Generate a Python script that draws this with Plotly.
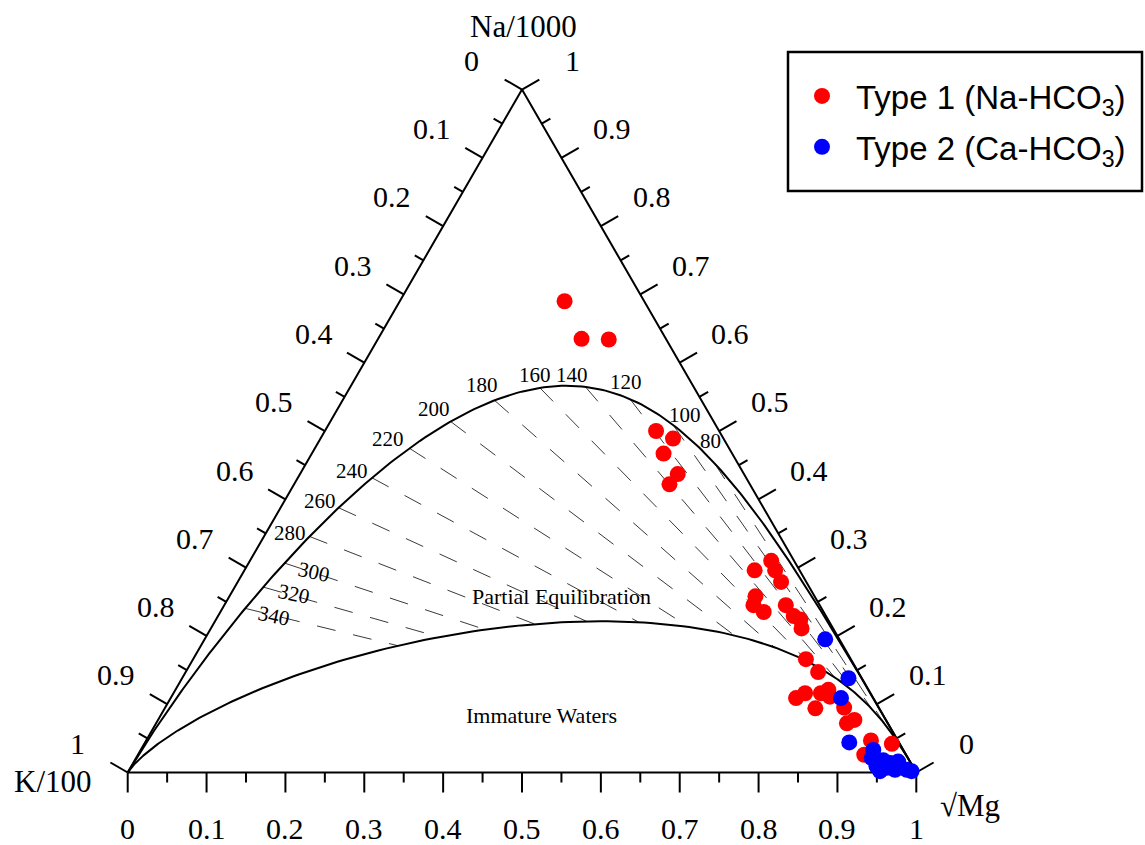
import numpy as np
import plotly.graph_objects as go

# ---------------- data (ternary fractions) ----------------
# components: Na/1000, K/100, sqrt(Mg)
type1_na = [0.690, 0.635, 0.634, 0.500, 0.489, 0.467, 0.437, 0.422, 0.310, 0.296,
            0.296, 0.279, 0.258, 0.245, 0.235, 0.245, 0.229, 0.224, 0.211, 0.166,
            0.147, 0.109, 0.116, 0.094, 0.116, 0.121, 0.111, 0.095, 0.072, 0.077,
            0.047, 0.042, 0.026]
type1_k = [0.101, 0.107, 0.073, 0.080, 0.064, 0.087, 0.084, 0.102, 0.029, 0.057,
           0.031, 0.032, 0.075, 0.084, 0.076, 0.043, 0.041, 0.035, 0.040, 0.057,
           0.051, 0.098, 0.083, 0.081, 0.063, 0.051, 0.054, 0.044, 0.052, 0.040,
           0.034, 0.010, 0.053]
type1_mg = [0.209, 0.258, 0.293, 0.420, 0.447, 0.446, 0.479, 0.476, 0.661, 0.647,
            0.673, 0.689, 0.667, 0.671, 0.689, 0.712, 0.730, 0.741, 0.749, 0.777,
            0.802, 0.793, 0.801, 0.825, 0.821, 0.828, 0.835, 0.861, 0.876, 0.883,
            0.919, 0.948, 0.921]

type2_na = [0.195, 0.138, 0.109, 0.044, 0.033, 0.021, 0.009, 0.018, 0.014, 0.016,
            0.004, 0.004, 0.002, 0.007, 0.002]
type2_k = [0.018, 0.017, 0.041, 0.063, 0.038, 0.046, 0.046, 0.033, 0.026, 0.015,
           0.025, 0.010, 0.045, 0.034, 0.005]
type2_mg = [0.787, 0.845, 0.850, 0.893, 0.929, 0.933, 0.945, 0.949, 0.960, 0.969,
            0.971, 0.986, 0.953, 0.959, 0.993]

# isotherm temperatures labelled along the full-equilibrium curve (deg C)
isotherm_temps = [80, 100, 120, 140, 160, 180, 200, 220, 240, 260, 280, 300, 320, 340]

# axis tick values (fractions) and their labels
major_ticks = [0.0, 0.1, 0.2, 0.3, 0.4, 0.5, 0.6, 0.7, 0.8, 0.9, 1.0]
major_tick_text = ["0", "0.1", "0.2", "0.3", "0.4", "0.5", "0.6", "0.7", "0.8", "0.9", "1"]
minor_ticks = [0.05, 0.15, 0.25, 0.35, 0.45, 0.55, 0.65, 0.75, 0.85, 0.95]

# ---------------- styling (pixel based) ----------------
W, H = 1145, 845
X0_PX, X1_PX, BASE_PX = 127.7, 916.3, 772.5      # triangle base in page pixels
SIDE_PX = X1_PX - X0_PX
MAJOR_LEN, MINOR_LEN = 20 / SIDE_PX, 10 / SIDE_PX
LABEL_DIST = {"left": 58.5 / SIDE_PX, "right": 58.5 / SIDE_PX, "bottom": 56 / SIDE_PX}
# label nudges (px) of the isotherm labels relative to their curve point
iso_label_shift = [(-4, 22), (12, 10), (-4, 17), (-13, 12), (-5, 13), (-13, 15), (-17, 13),
                   (-21, 9), (-20, 7), (-19, 7), (-20, 3), (29, -9), (31, -7), (29, -8)]
iso_label_angle = [0] * 11 + [12, 12, 12]

S3 = np.sqrt(3) / 2


def to_xy(na, k, mg):
    na, k, mg = (np.asarray(v, dtype=float) for v in (na, k, mg))
    s = na + k + mg
    na, mg = na / s, mg / s
    return mg + na / 2, na * S3


# ---------------- Giggenbach (1988) geothermometer relations ----------------
NA_REF = 1000.0  # mg/kg reference sodium used to construct the diagram


def giggenbach_point(log_na_k, log_k2_mg):
    log_na_k = np.asarray(log_na_k, dtype=float)
    k = NA_REF / 10 ** log_na_k
    sqrt_mg = k / 10 ** (np.asarray(log_k2_mg) / 2.0)
    na = np.full_like(log_na_k, NA_REF / 1000.0)
    return na, k / 100.0, sqrt_mg


def full_eq(log_na_k):
    # log(Na/K) = 1390/T - 1.75 ; log(K^2/Mg) = 14.0 - 4410/T
    inv_t = (np.asarray(log_na_k) + 1.75) / 1390.0
    return giggenbach_point(log_na_k, 14.0 - 4410.0 * inv_t)


def immature(log_na_k):
    # maturity index MI = 0.315 log(K^2/Mg) - log(K/Na) = 2.0
    return giggenbach_point(log_na_k, (2.0 - np.asarray(log_na_k)) / 0.315)


def log_na_k_of_t(t):
    return 1390.0 / (np.asarray(t, dtype=float) + 273.15) - 1.75


param = np.linspace(-2.5, 9.0, 800)
fe_x, fe_y = to_xy(*full_eq(param))
im_x, im_y = to_xy(*immature(param))
iso_L = log_na_k_of_t(isotherm_temps)
isf_x, isf_y = to_xy(*full_eq(iso_L))
isi_x, isi_y = to_xy(*immature(iso_L))

serif = "Liberation Serif, Times New Roman, serif"
sans = "Liberation Sans, Arial, sans-serif"

fig = go.Figure()

# triangle frame
corners = [(0.0, 1.0, 0.0), (0.0, 0.0, 1.0), (1.0, 0.0, 0.0), (0.0, 1.0, 0.0)]
tx, ty = to_xy([c[0] for c in corners], [c[1] for c in corners], [c[2] for c in corners])
fig.add_trace(go.Scatter(x=tx, y=ty, mode="lines", line=dict(color="black", width=2),
                         showlegend=False, hoverinfo="skip"))


# axis ticks: three edges, each with its outward normal
def edge_point(edge, v):
    if edge == "left":    # K fraction, 0 at Na apex -> 1 at K corner
        return to_xy(1 - v, v, 0)
    if edge == "right":   # Na fraction, 1 at apex -> 0 at Mg corner
        return to_xy(v, 0, 1 - v)
    return to_xy(0, 1 - v, v)  # bottom: sqrt(Mg) fraction


normals = {"left": (-S3, 0.5), "right": (S3, 0.5), "bottom": (0.0, -1.0)}

annotations = []
tick_x, tick_y = [], []
for edge, (nx, ny) in normals.items():
    for vals, ln in ((major_ticks, MAJOR_LEN), (minor_ticks, MINOR_LEN)):
        for v in vals:
            px, py = edge_point(edge, v)
            tick_x += [float(px), float(px) + nx * ln, None]
            tick_y += [float(py), float(py) + ny * ln, None]
    dist = LABEL_DIST[edge]
    for v, t in zip(major_ticks, major_tick_text):
        px, py = edge_point(edge, v)
        annotations.append(dict(x=float(px) + nx * dist, y=float(py) + ny * dist,
                                xref="x", yref="y", text=t, showarrow=False,
                                xanchor="center", yanchor="middle",
                                font=dict(family=serif, size=30, color="black")))

fig.add_trace(go.Scatter(x=tick_x, y=tick_y, mode="lines", line=dict(color="black", width=2),
                         showlegend=False, hoverinfo="skip"))

# dashed isotherms (constant Na/K) between full equilibrium and immature lines
dx, dy = [], []
for i in range(len(isotherm_temps)):
    dx += [float(isf_x[i]), float(isi_x[i]), None]
    dy += [float(isf_y[i]), float(isi_y[i]), None]
fig.add_trace(go.Scatter(x=dx, y=dy, mode="lines",
                         line=dict(color="#3a3a3a", width=1, dash="19px,18px"),
                         showlegend=False, hoverinfo="skip"))

# full equilibrium and immature curves
fig.add_trace(go.Scatter(x=fe_x, y=fe_y, mode="lines", line=dict(color="black", width=2),
                         showlegend=False, hoverinfo="skip"))
fig.add_trace(go.Scatter(x=im_x, y=im_y, mode="lines", line=dict(color="black", width=2),
                         showlegend=False, hoverinfo="skip"))

# samples
t1x, t1y = to_xy(type1_na, type1_k, type1_mg)
t2x, t2y = to_xy(type2_na, type2_k, type2_mg)
fig.add_trace(go.Scatter(x=t1x, y=t1y, mode="markers", name="Type 1 (Na-HCO<sub>3</sub>)",
                         legendgroup="t1", marker=dict(color="#ff0000", size=16)))
fig.add_trace(go.Scatter(x=t2x, y=t2y, mode="markers", name="Type 2 (Ca-HCO<sub>3</sub>)",
                         legendgroup="t2", marker=dict(color="#0000ff", size=16)))

for i, t in enumerate(isotherm_temps):
    sx, sy = iso_label_shift[i]
    annotations.append(dict(x=float(isf_x[i]), y=float(isf_y[i]), xref="x", yref="y",
                            text=str(t), showarrow=False, xshift=sx, yshift=sy,
                            textangle=iso_label_angle[i], xanchor="center", yanchor="middle",
                            font=dict(family=serif, size=21, color="black")))

text_items = [
    ("Na/1000", 523.7, 27, 31), ("K/100", 53, 781, 31), ("\u221aMg", 970, 805, 31),
    ("Partial Equilibration", 561, 596, 22), ("Immature Waters", 541, 715, 22),
]
for txt, px, py, fs in text_items:
    annotations.append(dict(text=txt, x=px / W, y=1 - py / H, xref="paper", yref="paper",
                            showarrow=False, xanchor="center", yanchor="middle",
                            font=dict(family=serif, size=fs, color="black")))

xr = [-X0_PX / SIDE_PX, (W - X0_PX) / SIDE_PX]
yr = [(BASE_PX - H) / SIDE_PX, BASE_PX / SIDE_PX]
fig.update_layout(
    width=W, height=H, margin=dict(l=0, r=0, t=0, b=0),
    paper_bgcolor="white", plot_bgcolor="white",
    xaxis=dict(range=xr, visible=False, fixedrange=True),
    yaxis=dict(range=yr, visible=False, fixedrange=True),
    legend=dict(x=788 / W, y=1 - 68 / H, xanchor="left", yanchor="top",
                borderwidth=0, bgcolor="rgba(0,0,0,0)", itemwidth=58, tracegroupgap=5,
                font=dict(family=sans, size=33, color="black")),
    shapes=[dict(type="rect", xref="paper", yref="paper", x0=788 / W, x1=1142 / W,
                 y0=1 - 191 / H, y1=1 - 52 / H, line=dict(color="black", width=2.5),
                 fillcolor="white", layer="below")],
    annotations=annotations,
)

fig.write_html("out.html")
